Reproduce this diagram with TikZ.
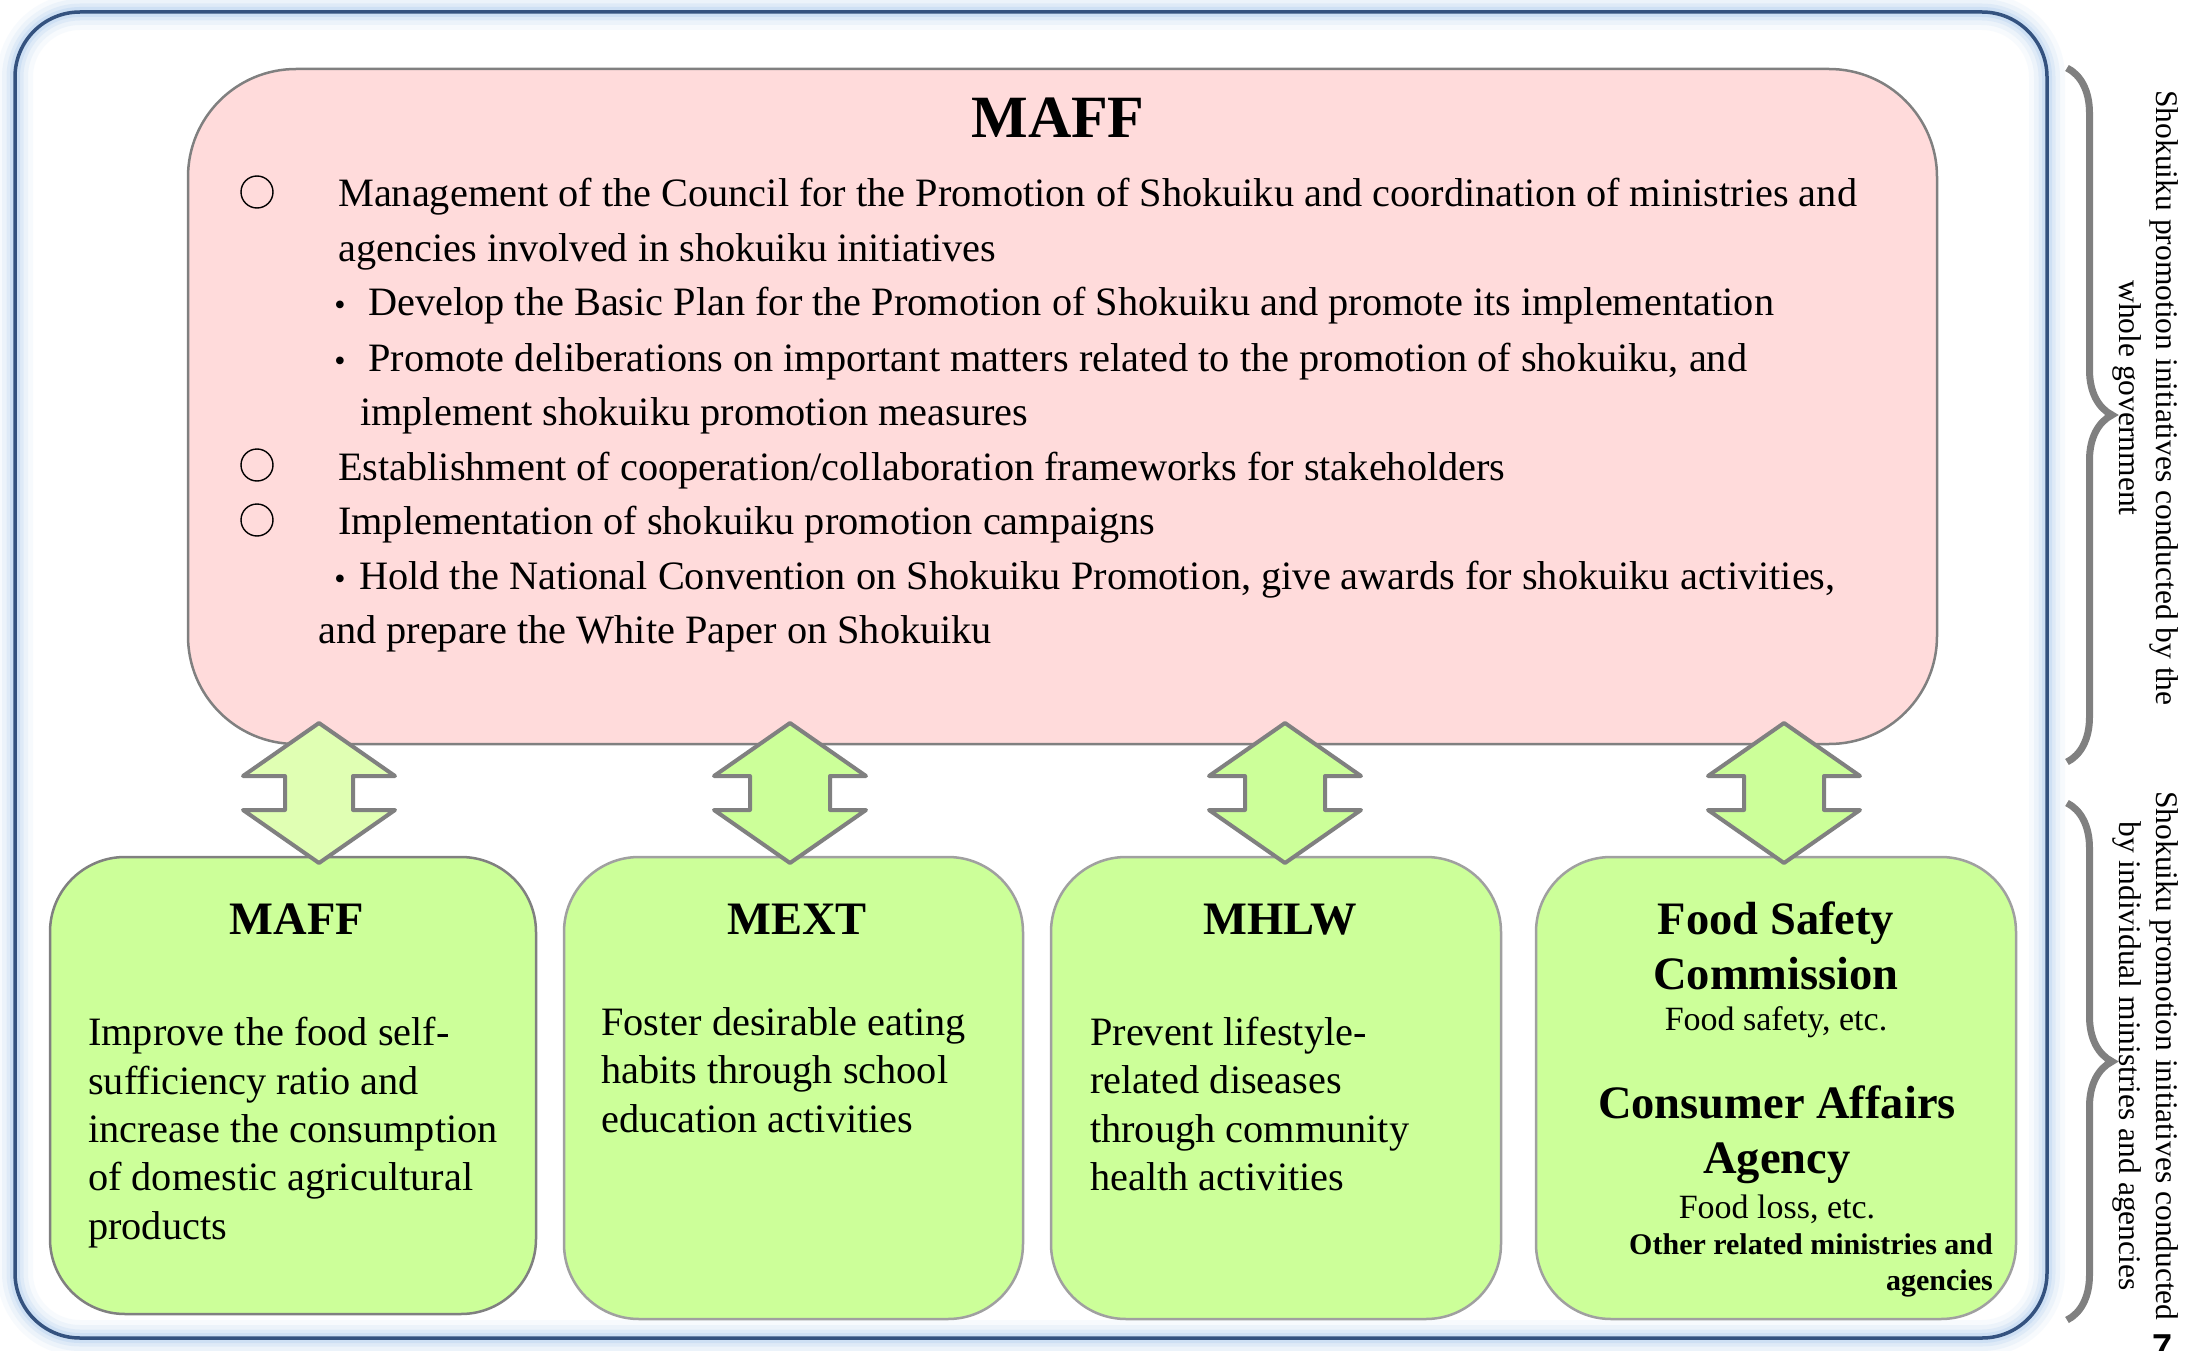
\documentclass[tikz,border=0pt]{standalone}
\usepackage{fontspec}
\setmainfont{Liberation Serif}
\newfontfamily\pagenumfont{Liberation Sans}
\usetikzlibrary{decorations.pathreplacing}
\definecolor{pinkfill}{HTML}{FFDBDB}
\definecolor{greenfill}{HTML}{CCFF99}
\definecolor{lightgreen}{HTML}{E0FFB3}
\definecolor{boxline}{HTML}{808080}
\definecolor{boxlinelight}{HTML}{A0A0A0}
\definecolor{framecol}{HTML}{34527F}
\definecolor{glowcol}{HTML}{B8D2F0}
\definecolor{bracecol}{HTML}{808080}
\newcommand\DblArrow[3]{%
  \draw[arrowshape, fill=#3] (#1,723) -- (#1+76,776) -- (#1+#2,776) -- (#1+#2,810) -- (#1+76,810) -- (#1,863)
    -- (#1-76,810) -- (#1-#2,810) -- (#1-#2,776) -- (#1-76,776) -- cycle;}
\tikzset{
  pinkbox/.style={draw=boxline, line width=2.5pt, fill=pinkfill, rounded corners=108pt, inner sep=0pt},
  greenbox/.style={draw=#1, line width=2.5pt, fill=greenfill, rounded corners=75pt, inner sep=0pt},
  arrowshape/.style={draw=boxline, line width=4pt, line join=round},
  body/.style={inner sep=0pt, anchor=base west, font=\fontsize{40.3}{48}\selectfont},
  bodyc/.style={inner sep=0pt, anchor=base, font=\fontsize{32}{40}\selectfont},
  bigtitle/.style={inner sep=0pt, anchor=base, font=\fontsize{60}{70}\selectfont\bfseries},
  gtitle/.style={inner sep=0pt, anchor=base, font=\fontsize{46.5}{55}\selectfont\bfseries},
  small/.style={inner sep=0pt, anchor=base, font=\fontsize{34}{40}\selectfont},
  smallbold/.style={inner sep=0pt, anchor=base east, font=\fontsize{30}{36}\selectfont\bfseries},
  ring/.style={circle, draw=black, line width=1.4pt, minimum size=32pt, inner sep=0pt},
  sidetext/.style={rotate=-90, align=center, inner sep=0pt, font=\fontsize{31.5}{37}\selectfont},
  bracestyle/.style={draw=bracecol, line width=7pt, decorate, decoration={brace, amplitude=45pt}},
}
\begin{document}
\begin{tikzpicture}[x=1pt,y=-1pt]
\useasboundingbox (0,0) rectangle (2188,1351);
\fill[white] (0,0) rectangle (2188,1351);
% outer frame with glow
\foreach \w/\o in {36/0.10, 26/0.16, 17/0.25, 10/0.4} {
  \draw[glowcol, line width=\w pt, opacity=\o, rounded corners=65pt] (15,12) rectangle (2047,1338);
}
\draw[framecol, line width=3.5pt, rounded corners=65pt] (15,12) rectangle (2047,1338);

% main box
\node[pinkbox, minimum width=1749pt, minimum height=675pt] (top) at (1062.5,406.5) {};
% lower boxes
\node[greenbox=boxline, minimum width=486pt, minimum height=457pt] (g1) at (293,1085.5) {};
\node[greenbox=boxlinelight, minimum width=459pt, minimum height=462pt] (g2) at (793.5,1088) {};
\node[greenbox=boxlinelight, minimum width=450pt, minimum height=462pt] (g3) at (1276,1088) {};
\node[greenbox=boxlinelight, minimum width=480pt, minimum height=462pt] (g4) at (1776,1088) {};

% double arrows
\DblArrow{319}{34}{lightgreen}
\DblArrow{790}{40}{greenfill}
\DblArrow{1285}{40}{greenfill}
\DblArrow{1784}{40}{greenfill}

% top box text
\node[bigtitle] (t0) at (1058,138) {MAFF};
\node[ring] (c1) at (257,192) {};
\node[ring] (c2) at (257,465) {};
\node[ring] (c3) at (257,520) {};
\node[body] (t1) at (338,207) {Management of the Council for the Promotion of Shokuiku and coordination of ministries and};
\node[body] (t2) at (338,261.6) {agencies involved in shokuiku initiatives};
\node[bodyc] (b1) at (340,316) {\textbullet};
\node[body] (t3) at (368,316) {Develop the Basic Plan for the Promotion of Shokuiku and promote its implementation};
\node[bodyc] (b2) at (340,371) {\textbullet};
\node[body] (t4) at (368,371) {Promote deliberations on important matters related to the promotion of shokuiku, and};
\node[body] (t5) at (360,425.4) {implement shokuiku promotion measures};
\node[body] (t6) at (338,480) {Establishment of cooperation/collaboration frameworks for stakeholders};
\node[body] (t7) at (338,534.6) {Implementation of shokuiku promotion campaigns};
\node[bodyc] (b3) at (340,589.2) {\textbullet};
\node[body] (t8) at (359,589.2) {Hold the National Convention on Shokuiku Promotion, give awards for shokuiku activities,};
\node[body] (t9) at (318,643.8) {and prepare the White Paper on Shokuiku};

% box 1
\node[gtitle] (h1) at (297,934) {MAFF};
\node[body] (a1) at (88,1045) {Improve the food self-};
\node[body] (a2) at (88,1094) {sufficiency ratio and};
\node[body] (a3) at (88,1142) {increase the consumption};
\node[body] (a4) at (88,1190) {of domestic agricultural};
\node[body] (a5) at (88,1239) {products};
% box 2
\node[gtitle] (h2) at (797,934) {MEXT};
\node[body] (m1) at (601,1035) {Foster desirable eating};
\node[body] (m2) at (601,1083) {habits through school};
\node[body] (m3) at (601,1132) {education activities};
% box 3
\node[gtitle] (h3) at (1280,934) {MHLW};
\node[body] (w1) at (1090,1045) {Prevent lifestyle-};
\node[body] (w2) at (1090,1093) {related diseases};
\node[body] (w3) at (1090,1142) {through community};
\node[body] (w4) at (1090,1190) {health activities};
% box 4
\node[gtitle] (h4a) at (1776,934) {Food Safety};
\node[gtitle] (h4b) at (1776,989) {Commission};
\node[small] (f1) at (1776,1030) {Food safety, etc.};
\node[gtitle] (h4c) at (1777,1118) {Consumer Affairs};
\node[gtitle] (h4d) at (1777,1173) {Agency};
\node[small] (f2) at (1777,1218) {Food loss, etc.};
\node[smallbold] (o1) at (1993,1254) {Other related ministries and};
\node[smallbold] (o2) at (1993,1290) {agencies};

% braces and side texts
\coordinate (br1a) at (2067,68);
\coordinate (br1b) at (2067,762);
\coordinate (br2a) at (2067,803);
\coordinate (br2b) at (2067,1320);
\draw[bracestyle] (br1a) -- (br1b);
\draw[bracestyle] (br2a) -- (br2b);
\node[sidetext] (s1) at (2146,398) {Shokuiku promotion initiatives conducted by the\\whole government};
\node[sidetext] (s2) at (2146,1056) {Shokuiku promotion initiatives conducted\\by individual ministries and agencies};

% page number, cut off at the lower edge as in the source
\node[inner sep=0pt, anchor=base west, font=\pagenumfont\bfseries\fontsize{36}{40}\selectfont] (pg) at (2152,1359) {7};
\end{tikzpicture}
\end{document}
